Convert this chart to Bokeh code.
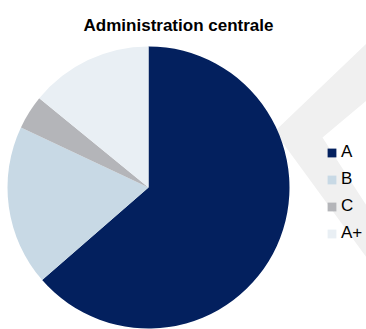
import math
from bokeh.plotting import figure
from bokeh.models import ColumnDataSource, Range1d, Legend, LegendItem, Label, PolyAnnotation
from bokeh.embed import file_html
from bokeh.resources import INLINE

# data
categories = ["A", "B", "C", "A+"]
shares = [63.6, 18.4, 3.9, 14.1]
colors = ["#03205e", "#c8d9e5", "#b4b5b9", "#e9eff4"]
title_text = "Administration centrale"

W, H = 366, 329
total = sum(shares)
starts, ends = [], []
acc = 0.0
for s in shares:
    starts.append(math.pi / 2 - acc / total * 2 * math.pi)
    acc += s
    ends.append(math.pi / 2 - acc / total * 2 * math.pi)

src = ColumnDataSource(dict(cat=categories, val=shares, color=colors,
                            start=starts, end=ends))

p = figure(width=W, height=H, output_backend="svg", toolbar_location=None,
           x_range=Range1d(0, W), y_range=Range1d(0, H), min_border=0,
           match_aspect=False)
p.axis.visible = False
p.grid.visible = False
p.outline_line_color = None
p.background_fill_color = "white"

# decorative chevron in background (pixel layout)
chev_x = [366, 274, 366, 366, 322, 366]
chev_y = [H - v for v in [43, 131, 257, 205, 137, 100]]
p.add_layout(PolyAnnotation(xs=chev_x, ys=chev_y, fill_color="#f0f0f0", fill_alpha=1,
                            line_color=None, level="underlay"))

cx, cy, r = 148, H - 187, 141
wr = p.wedge(x=cx, y=cy, radius=r, start_angle="start", end_angle="end",
             direction="clock", fill_color="color", line_color=None, source=src)

items = [LegendItem(label=c, renderers=[wr], index=i) for i, c in enumerate(categories)]
legend = Legend(items=items, location=(326, 86), padding=0, margin=0,
                spacing=7, label_height=20, glyph_width=11, glyph_height=11,
                label_standoff=4, border_line_color=None, background_fill_alpha=0,
                label_text_font="Liberation Sans", label_text_font_size="17px",
                label_text_color="#000000")
p.add_layout(legend)

p.add_layout(Label(x=178, y=H - 25, text=title_text, text_align="center",
                   text_baseline="middle", text_font="Liberation Sans",
                   text_font_style="bold", text_font_size="17px", text_color="#000000"))

open("out.html", "w").write(file_html(p, INLINE))
